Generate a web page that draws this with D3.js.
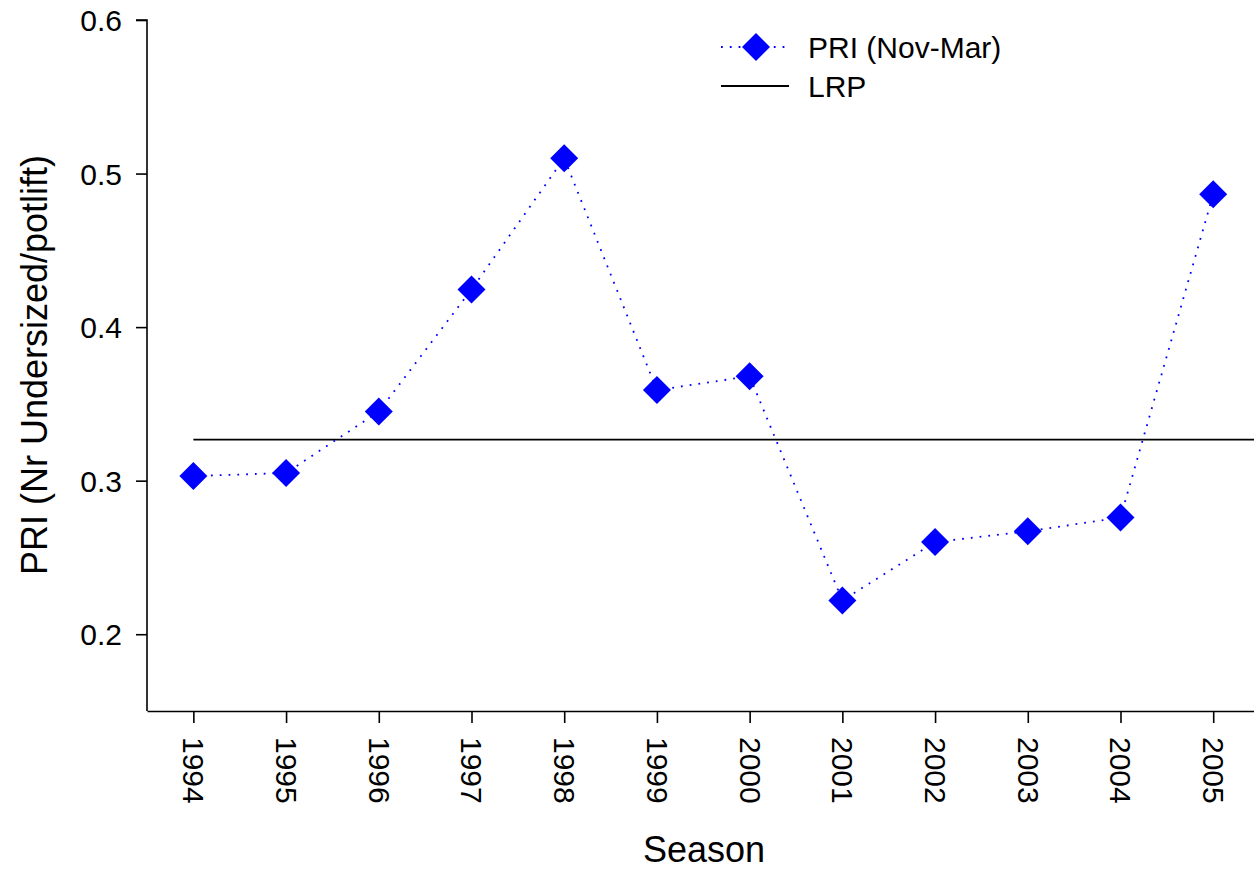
<!DOCTYPE html>
<html>
<head>
<meta charset="utf-8">
<script src="https://cdn.jsdelivr.net/npm/d3@7"></script>
<style>
  body { margin: 0; background: white; }
  text { font-family: "Liberation Sans", Arial, sans-serif; fill: black; }
</style>
</head>
<body>
<div class="chart"></div>
<script>
// seasons and PRI values
var seasons = [1994, 1995, 1996, 1997, 1998, 1999, 2000, 2001, 2002, 2003, 2004, 2005];
var priValues = [0.303, 0.305, 0.345, 0.4245, 0.510, 0.359, 0.368, 0.222, 0.260, 0.267, 0.276, 0.4865];
var lrpValue = 0.3267;
var yTicks = [0.2, 0.3, 0.4, 0.5, 0.6];

var width = 1254, height = 871;

var svg = d3.select(".chart").append("svg")
  .attr("width", width).attr("height", height);

// scales
var x = d3.scaleLinear().domain([1993.5, 2005.44]).range([147, 1254]);
var y = d3.scaleLinear().domain([0.15, 0.6]).range([711, 20]);

// y axis
var yAxis = d3.axisLeft(y).tickValues(yTicks).tickFormat(d3.format(".1f")).tickSize(11).tickPadding(14);
var gy = svg.append("g").attr("transform", "translate(147,0)").call(yAxis);
gy.select(".domain").attr("d", "M-11," + y(0.6) + "H0V711").attr("stroke-width", 1.6);
gy.selectAll(".tick line").attr("stroke-width", 1.6);
gy.selectAll(".tick text").style("font-size", "30px").attr("dy", "0.35em");

// x axis
var xAxis = d3.axisBottom(x).tickValues(seasons).tickFormat(d3.format("d")).tickSize(12).tickSizeOuter(0);
var gx = svg.append("g").attr("transform", "translate(0,711)").call(xAxis);
gx.select(".domain").attr("stroke-width", 1.6);
gx.selectAll(".tick line").attr("stroke-width", 1.6);
gx.selectAll(".tick text")
  .style("font-size", "30px")
  .attr("transform", "rotate(90)")
  .attr("x", 26).attr("y", 0).attr("dy", "0.35em")
  .style("text-anchor", "start");

// LRP line
svg.append("line")
  .attr("x1", x(1994)).attr("x2", width)
  .attr("y1", y(lrpValue)).attr("y2", y(lrpValue))
  .attr("stroke", "black").attr("stroke-width", 1.8);

// PRI line (dotted)
var line = d3.line()
  .x(function(d, i) { return x(seasons[i]); })
  .y(function(d) { return y(d); });

svg.append("path")
  .attr("fill", "none")
  .attr("stroke", "#0000ff")
  .attr("stroke-width", 1.8)
  .attr("stroke-dasharray", "1.8,7")
  .attr("d", line(priValues));

// diamond markers
var diamond = "M0,-14L14,0L0,14L-14,0Z";
svg.selectAll(".pt").data(priValues).enter().append("path")
  .attr("class", "pt")
  .attr("d", diamond)
  .attr("fill", "#0000ff")
  .attr("transform", function(d, i) { return "translate(" + x(seasons[i]) + "," + y(d) + ")"; });

// axis titles
svg.append("text")
  .attr("transform", "translate(47,365) rotate(-90)")
  .style("text-anchor", "middle")
  .style("font-size", "36px")
  .text("PRI (Nr Undersized/potlift)");

svg.append("text")
  .attr("x", 704).attr("y", 862)
  .style("text-anchor", "middle")
  .style("font-size", "36px")
  .text("Season");

// legend
var legend = svg.append("g");
legend.append("line")
  .attr("x1", 721).attr("x2", 787).attr("y1", 47).attr("y2", 47)
  .attr("stroke", "#0000ff").attr("stroke-width", 1.8)
  .attr("stroke-dasharray", "1.8,7");
legend.append("path").attr("d", diamond).attr("fill", "#0000ff")
  .attr("transform", "translate(756,47)");
legend.append("text").attr("x", 808).attr("y", 47).attr("dy", "0.35em")
  .style("font-size", "30px").text("PRI (Nov-Mar)");
legend.append("line")
  .attr("x1", 721).attr("x2", 789).attr("y1", 86).attr("y2", 86)
  .attr("stroke", "black").attr("stroke-width", 1.8);
legend.append("text").attr("x", 808).attr("y", 86).attr("dy", "0.35em")
  .style("font-size", "30px").text("LRP");
</script>
</body>
</html>
